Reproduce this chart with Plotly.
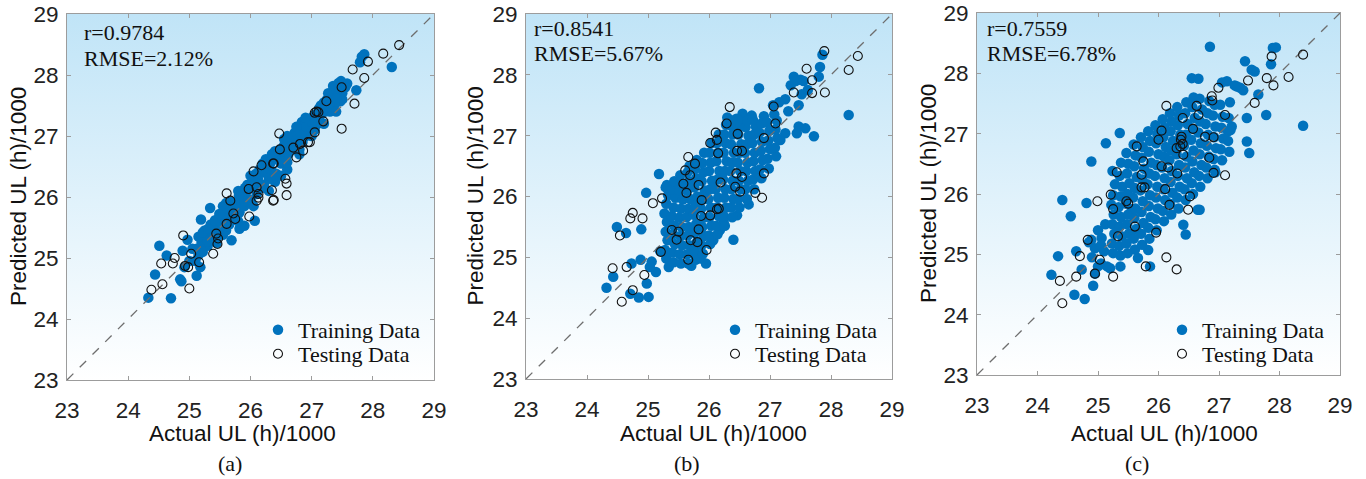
import plotly.graph_objects as go

W, H = 1366, 479

# ---------------- data ----------------
axis_ticks = [23, 24, 25, 26, 27, 28, 29]
diag = [23, 29]
bg_x = [23, 29, 29, 23, 23]
bg_y = [23, 23, 29, 29, 23]

stats_r = ["r=0.9784", "r=0.8541", "r=0.7559"]
stats_rmse = ["RMSE=2.12%", "RMSE=5.67%", "RMSE=6.78%"]
captions = ["(a)", "(b)", "(c)"]

# ---- Panel (a) training ----
train_a_x = [28.31, 27.82, 27.86, 27.79, 27.73, 27.44, 27.58, 27.47, 27.35, 27.27,
             26.84, 26.47, 25.34, 25.19, 24.51, 24.44, 24.33, 24.70, 24.85, 24.87,
             24.63, 24.97, 24.89, 25.12, 25.18, 26.07, 25.69, 25.82, 25.90, 24.92,
             25.10, 25.12, 25.15, 25.20, 25.22, 25.25, 25.30, 25.32, 25.35, 25.40,
             25.42, 25.45, 25.50, 25.52, 25.55, 25.60, 25.62, 25.65, 25.70, 25.72,
             25.75, 25.80, 25.82, 25.85, 25.90, 25.92, 25.95, 26.00, 26.02, 26.05,
             26.10, 26.12, 26.15, 26.20, 26.22, 26.25, 26.30, 26.32, 26.35, 26.40,
             26.42, 26.45, 26.50, 26.52, 26.55, 26.60, 26.62, 26.65, 26.70, 26.72,
             26.75, 26.80, 26.82, 26.85, 26.90, 26.92, 26.95, 27.00, 27.02, 27.05,
             27.10, 27.12, 27.15, 27.20, 27.22, 27.25, 27.30, 27.32, 27.35, 27.40,
             27.42, 27.45, 27.50, 25.25, 25.45, 25.60, 25.80, 25.95, 26.05, 26.15,
             26.30, 26.40, 26.55, 26.60, 26.70, 26.80, 26.85, 26.95, 27.05, 27.15,
             27.30, 27.40, 27.48, 25.05, 25.00, 25.15, 25.35, 25.55, 25.65, 26.25,
             26.35, 26.50, 27.55,
             25.20, 25.30, 25.40, 25.50, 25.60, 25.70, 25.80, 25.90, 26.00, 26.10,
             26.20, 26.30, 26.40, 26.50, 26.60, 26.70, 26.80, 26.90, 27.00, 27.10,
             27.20, 27.30, 27.40, 27.50,
             25.22, 25.31, 25.42, 25.49, 25.61, 25.69, 25.81, 25.91, 26.01, 26.09,
             26.21, 26.31, 26.39, 26.51, 26.61, 26.69, 26.81, 26.91, 27.01, 27.09,
             27.21, 27.29, 27.41, 27.52,
             26.00, 26.20, 26.40, 26.60, 26.75, 26.90, 25.80, 25.60, 26.55, 26.35]
train_a_y = [28.13, 28.30, 28.34, 28.21, 27.75, 27.87, 27.86, 27.57, 27.82, 27.70,
             27.23, 26.76, 25.82, 25.63, 25.20, 24.73, 24.35, 24.34, 24.65, 24.62,
             25.04, 25.30, 25.12, 24.71, 24.85, 25.61, 25.29, 25.48, 25.53, 24.85,
             24.95, 25.15, 25.05, 25.25, 25.10, 25.30, 25.20, 25.40, 25.28, 25.50,
             25.35, 25.60, 25.45, 25.62, 25.38, 25.70, 25.55, 25.78, 25.62, 25.85,
             25.70, 25.90, 25.75, 26.00, 25.85, 26.05, 25.95, 26.15, 25.90, 26.25,
             26.05, 26.30, 26.15, 26.40, 26.20, 26.50, 26.30, 26.55, 26.42, 26.62,
             26.38, 26.70, 26.55, 26.80, 26.62, 26.90, 26.70, 26.95, 26.80, 27.05,
             26.88, 27.10, 26.95, 27.15, 27.00, 27.20, 27.08, 27.30, 27.15, 27.35,
             27.25, 27.45, 27.35, 27.55, 27.40, 27.60, 27.50, 27.70, 27.62, 27.80,
             27.65, 27.75, 27.70, 25.45, 25.25, 25.45, 25.60, 26.20, 25.85, 26.45,
             26.10, 26.25, 26.85, 26.45, 27.00, 26.70, 26.90, 27.25, 27.10, 27.50,
             27.40, 27.55, 27.90, 25.15, 24.95, 25.35, 25.55, 25.85, 25.55, 26.62,
             26.70, 26.35, 27.80,
             25.12, 25.28, 25.32, 25.50, 25.52, 25.72, 25.73, 25.93, 25.95, 26.14,
             26.15, 26.35, 26.36, 26.58, 26.57, 26.80, 26.78, 27.00, 27.00, 27.20,
             27.20, 27.42, 27.40, 27.60,
             25.42, 25.48, 25.62, 25.72, 25.82, 25.92, 26.02, 26.15, 26.22, 26.38,
             26.45, 26.55, 26.65, 26.75, 26.85, 26.98, 27.05, 27.15, 27.22, 27.35,
             27.45, 27.55, 27.62, 27.78,
             26.35, 26.55, 26.75, 27.00, 27.15, 27.30, 26.10, 25.90, 26.95, 26.62]

# ---- Panel (a) testing ----
test_a_x = [28.43, 28.17, 27.92, 27.67, 27.86, 27.49, 27.70, 27.49, 27.24, 27.19,
            27.05, 27.11, 27.05, 26.94, 26.86, 26.75, 26.70, 26.47, 26.38, 26.38,
            26.59, 26.57, 26.59, 26.35, 26.05, 26.10, 26.13, 26.10, 25.97, 25.98,
            25.75, 25.61, 25.67, 25.61, 25.72, 25.44, 25.47, 25.39, 25.16, 25.03,
            24.90, 24.98, 24.93, 24.73, 24.54, 24.76, 25.00, 24.56, 24.38, 26.81,
            26.97, 26.48, 26.18, 26.37, 26.13, 26.37, 25.46, 27.08]
test_a_y = [28.49, 28.35, 28.22, 28.09, 27.95, 27.80, 27.53, 27.12, 27.57, 27.24,
            27.38, 27.39, 27.06, 26.90, 26.76, 26.65, 26.81, 27.04, 26.55, 25.95,
            26.03, 26.30, 26.22, 26.11, 26.42, 26.16, 25.99, 25.94, 26.13, 25.68,
            25.64, 26.06, 25.94, 25.56, 25.73, 25.40, 25.32, 25.07, 24.93, 25.07,
            25.37, 24.85, 24.87, 24.91, 24.91, 25.00, 24.50, 24.57, 24.48, 26.87,
            26.90, 26.78, 26.52, 26.55, 26.05, 25.94, 25.23, 27.40]

# ---- Panel (b) training ----
train_b_x = [27.86, 27.82, 27.80, 28.29, 27.72, 26.82, 27.52, 27.39, 27.50, 27.34,
             27.47, 27.47, 27.58, 27.44, 27.25, 27.17, 26.65, 26.46, 26.40, 25.18,
             24.97, 24.49, 24.64, 24.89, 24.88, 24.73, 24.43, 24.32, 24.71, 24.85,
             25.01, 24.98, 25.13, 25.06, 25.03, 25.34, 25.71, 25.86, 26.07, 26.18,
             26.24, 25.41, 25.31, 27.42, 27.55, 27.25, 27.15, 27.05, 27.62, 27.30,
             26.55, 26.30, 26.70, 26.45, 26.90, 25.20, 25.95,
             # dense core
             25.30, 25.28, 25.32, 25.29, 25.31, 25.27, 25.30, 25.33, 25.29,
             25.42, 25.40, 25.44, 25.41, 25.43, 25.39, 25.42, 25.45, 25.40, 25.43,
             25.54, 25.52, 25.56, 25.53, 25.55, 25.51, 25.54, 25.57, 25.52, 25.55, 25.53,
             25.66, 25.64, 25.68, 25.65, 25.67, 25.63, 25.66, 25.69, 25.64, 25.67, 25.65, 25.68,
             25.78, 25.76, 25.80, 25.77, 25.79, 25.75, 25.78, 25.81, 25.76, 25.79, 25.77, 25.80,
             25.90, 25.88, 25.92, 25.89, 25.91, 25.87, 25.90, 25.93, 25.88, 25.91, 25.89, 25.92,
             26.02, 26.00, 26.04, 26.01, 26.03, 25.99, 26.02, 26.05, 26.00, 26.03, 26.01, 26.04,
             26.14, 26.12, 26.16, 26.13, 26.15, 26.11, 26.14, 26.17, 26.12, 26.15, 26.13, 26.16,
             26.26, 26.24, 26.28, 26.25, 26.27, 26.23, 26.26, 26.29, 26.24, 26.27, 26.25, 26.28,
             26.38, 26.36, 26.40, 26.37, 26.39, 26.35, 26.38, 26.41, 26.36, 26.39, 26.37, 26.40,
             26.50, 26.48, 26.52, 26.49, 26.51, 26.47, 26.50, 26.53, 26.48, 26.51, 26.49,
             26.62, 26.60, 26.64, 26.61, 26.63, 26.59, 26.62, 26.65, 26.60, 26.63,
             26.74, 26.72, 26.76, 26.73, 26.75, 26.71, 26.74, 26.77, 26.72,
             26.86, 26.84, 26.88, 26.85, 26.87, 26.83, 26.86,
             26.98, 26.96, 27.00, 26.97, 26.99, 26.95,
             27.10, 27.08, 27.12, 27.09, 27.11, 27.07]
train_b_y = [28.33, 28.13, 27.97, 27.34, 26.99, 27.78, 27.68, 27.97, 27.92, 27.83,
             27.50, 27.15, 27.12, 27.04, 27.04, 26.93, 25.87, 25.69, 25.29, 26.37,
             26.06, 25.50, 25.40, 25.46, 24.96, 24.90, 24.68, 24.50, 24.40, 24.34,
             24.35, 24.57, 24.76, 24.93, 24.84, 24.84, 24.86, 24.98, 25.28, 25.45,
             25.58, 26.16, 26.19, 27.90, 27.90, 27.60, 27.55, 27.50, 27.75, 27.40,
             27.36, 27.30, 27.33, 27.28, 27.32, 25.10, 24.90,
             # dense core
             24.98, 25.12, 25.28, 25.42, 25.58, 25.72, 25.88, 26.02, 26.15,
             24.92, 25.08, 25.22, 25.38, 25.52, 25.68, 25.82, 25.98, 26.12, 26.25,
             24.90, 25.05, 25.20, 25.35, 25.50, 25.65, 25.80, 25.95, 26.10, 26.22, 26.35,
             24.90, 25.05, 25.20, 25.36, 25.50, 25.66, 25.80, 25.96, 26.10, 26.25, 26.40, 26.50,
             24.96, 25.10, 25.25, 25.40, 25.55, 25.70, 25.85, 26.00, 26.15, 26.30, 26.45, 26.60,
             25.06, 25.20, 25.35, 25.50, 25.65, 25.80, 25.95, 26.10, 26.25, 26.40, 26.55, 26.72,
             25.22, 25.36, 25.52, 25.66, 25.82, 25.96, 26.12, 26.26, 26.42, 26.56, 26.72, 26.88,
             25.38, 25.52, 25.68, 25.82, 25.98, 26.12, 26.28, 26.42, 26.58, 26.72, 26.88, 27.02,
             25.52, 25.68, 25.82, 25.98, 26.12, 26.28, 26.42, 26.58, 26.72, 26.88, 27.02, 27.18,
             25.66, 25.82, 25.96, 26.12, 26.26, 26.42, 26.56, 26.72, 26.86, 27.02, 27.16, 27.25,
             25.82, 25.96, 26.12, 26.26, 26.42, 26.56, 26.72, 26.86, 27.02, 27.15, 27.25,
             25.96, 26.12, 26.26, 26.42, 26.56, 26.72, 26.86, 27.00, 27.14, 27.25,
             26.12, 26.28, 26.42, 26.58, 26.72, 26.88, 27.02, 27.15, 27.26,
             26.30, 26.45, 26.60, 26.75, 26.90, 27.05, 27.20,
             26.46, 26.62, 26.78, 26.92, 27.08, 27.22,
             26.66, 26.80, 26.96, 27.10, 27.25, 27.35]

# ---- Panel (b) testing ----
test_b_x = [27.89, 28.44, 28.29, 27.60, 27.69, 27.90, 27.69, 27.39, 26.34, 26.29,
            26.11, 26.13, 26.02, 26.47, 26.90, 27.09, 27.06, 26.15, 26.46, 26.54,
            25.66, 25.77, 25.61, 25.69, 25.58, 25.63, 25.83, 25.88, 26.19, 26.45,
            26.54, 26.43, 26.51, 26.76, 26.87, 26.90, 25.23, 25.08, 24.75, 24.71,
            24.91, 24.54, 25.39, 25.50, 25.47, 25.70, 25.81, 25.83, 25.87, 26.02,
            26.13, 26.16, 25.96, 25.66, 25.21, 24.42, 24.65, 24.94, 24.75, 24.57]
test_b_y = [28.39, 28.31, 28.08, 28.10, 27.91, 27.71, 27.70, 27.71, 27.47, 27.20,
            27.05, 26.93, 26.88, 27.03, 26.96, 27.20, 27.48, 26.71, 26.75, 26.75,
            26.65, 26.54, 26.43, 26.35, 26.21, 26.06, 26.19, 25.94, 26.23, 26.38,
            26.32, 26.16, 26.08, 26.06, 25.98, 26.38, 25.97, 25.89, 25.73, 25.64,
            25.64, 25.36, 25.45, 25.42, 25.29, 25.28, 25.25, 25.46, 25.68, 25.69,
            25.79, 25.80, 25.12, 24.96, 25.09, 24.82, 24.84, 24.71, 24.46, 24.27]

# ---- Panel (c) training ----
train_c_x = [26.85, 27.89, 27.94, 27.86, 27.43, 27.54, 27.59, 28.39, 27.78, 27.46,
             27.46, 27.50, 26.55, 26.66, 27.13, 27.26, 27.35, 25.36, 25.13, 24.89,
             24.41, 24.55, 24.81, 24.34, 24.23, 24.61, 24.78, 24.92, 24.64, 24.73,
             24.89, 25.06, 25.20, 25.37, 25.66, 25.83, 25.86, 26.41, 26.45, 25.56,
             25.60, 26.65, 26.68, 26.94, 27.15, 27.21, 27.65, 27.30, 27.40, 27.05,
             24.95, 25.05, 24.90, 25.00, 25.10, 24.95, 25.05, 25.15, 24.85, 25.00,
             25.12,
             # dense core
             25.25, 25.23, 25.27, 25.24, 25.26, 25.22, 25.25, 25.28, 25.24,
             25.37, 25.35, 25.39, 25.36, 25.38, 25.34, 25.37, 25.40, 25.36, 25.38,
             25.49, 25.47, 25.51, 25.48, 25.50, 25.46, 25.49, 25.52, 25.48, 25.50, 25.47,
             25.61, 25.59, 25.63, 25.60, 25.62, 25.58, 25.61, 25.64, 25.60, 25.62, 25.59,
             25.73, 25.71, 25.75, 25.72, 25.74, 25.70, 25.73, 25.76, 25.72, 25.74, 25.71,
             25.85, 25.83, 25.87, 25.84, 25.86, 25.82, 25.85, 25.88, 25.84, 25.86, 25.83,
             25.97, 25.95, 25.99, 25.96, 25.98, 25.94, 25.97, 26.00, 25.96, 25.98, 25.95,
             26.09, 26.07, 26.11, 26.08, 26.10, 26.06, 26.09, 26.12, 26.08, 26.10, 26.07,
             26.21, 26.19, 26.23, 26.20, 26.22, 26.18, 26.21, 26.24, 26.20, 26.22, 26.19,
             26.33, 26.31, 26.35, 26.32, 26.34, 26.30, 26.33, 26.36, 26.32, 26.34, 26.31,
             26.45, 26.43, 26.47, 26.44, 26.46, 26.42, 26.45, 26.48, 26.44, 26.46,
             26.57, 26.55, 26.59, 26.56, 26.58, 26.54, 26.57, 26.60, 26.56, 26.58,
             26.69, 26.67, 26.71, 26.68, 26.70, 26.66, 26.69, 26.72, 26.68,
             26.81, 26.79, 26.83, 26.80, 26.82, 26.78, 26.81, 26.84,
             26.93, 26.91, 26.95, 26.92, 26.94, 26.90, 26.93,
             27.05, 27.03, 27.07, 27.04, 27.06, 27.02,
             27.17, 27.15, 27.19, 27.16, 27.18]
train_c_y = [28.44, 28.42, 28.43, 28.15, 28.20, 28.06, 28.03, 27.13, 27.31, 27.26,
             26.87, 26.68, 27.92, 27.91, 27.87, 27.80, 27.76, 27.01, 26.84, 26.54,
             25.90, 25.63, 25.85, 24.97, 24.66, 24.33, 24.26, 24.48, 25.05, 24.75,
             25.24, 25.27, 24.77, 24.80, 24.94, 25.07, 24.80, 25.49, 25.33, 25.75,
             25.75, 25.74, 25.74, 26.36, 27.04, 27.12, 27.65, 27.78, 27.72, 27.85,
             25.10, 25.15, 24.95, 24.80, 25.05, 24.68, 24.85, 24.80, 25.20, 25.40,
             25.50,
             # dense core
             25.02, 25.18, 25.34, 25.50, 25.66, 25.82, 25.98, 26.16, 26.38,
             24.98, 25.14, 25.30, 25.46, 25.62, 25.78, 25.96, 26.12, 26.30, 26.52,
             25.02, 25.18, 25.34, 25.50, 25.66, 25.84, 26.00, 26.18, 26.34, 26.50, 26.68,
             25.08, 25.26, 25.42, 25.60, 25.76, 25.94, 26.10, 26.28, 26.46, 26.64, 26.82,
             25.16, 25.34, 25.52, 25.70, 25.88, 26.06, 26.24, 26.42, 26.60, 26.78, 26.94,
             25.26, 25.44, 25.62, 25.80, 25.98, 26.16, 26.34, 26.52, 26.70, 26.88, 27.04,
             25.40, 25.58, 25.76, 25.94, 26.12, 26.30, 26.48, 26.66, 26.84, 27.00, 27.14,
             25.55, 25.72, 25.90, 26.08, 26.26, 26.44, 26.62, 26.78, 26.94, 27.10, 27.24,
             25.66, 25.84, 26.02, 26.20, 26.38, 26.56, 26.72, 26.88, 27.04, 27.20, 27.34,
             25.76, 25.94, 26.12, 26.30, 26.48, 26.66, 26.82, 26.98, 27.14, 27.30, 27.44,
             25.90, 26.08, 26.26, 26.44, 26.62, 26.80, 26.98, 27.16, 27.34, 27.52,
             26.00, 26.18, 26.36, 26.54, 26.72, 26.90, 27.08, 27.26, 27.44, 27.60,
             26.12, 26.30, 26.48, 26.66, 26.84, 27.02, 27.20, 27.40, 27.58,
             26.26, 26.44, 26.62, 26.80, 26.98, 27.16, 27.34, 27.54,
             26.40, 26.58, 26.76, 26.94, 27.12, 27.30, 27.48,
             26.56, 26.74, 26.92, 27.10, 27.28, 27.48,
             26.70, 26.88, 27.06, 27.26, 27.52]

# ---- Panel (c) testing ----
test_c_x = [28.39, 27.87, 28.15, 27.79, 27.90, 27.48, 27.59, 26.99, 26.88, 26.89,
            27.10, 27.10, 26.91, 26.84, 26.91, 26.77, 26.63, 26.66, 26.57, 26.13,
            26.40, 26.30, 26.36, 26.38, 26.37, 26.40, 26.41, 26.05, 26.00, 25.64,
            25.75, 25.72, 25.72, 25.77, 26.05, 26.16, 26.31, 26.11, 26.52, 26.49,
            26.18, 25.96, 25.61, 25.47, 25.50, 25.31, 25.21, 25.25, 25.33, 24.99,
            24.83, 24.70, 25.03, 24.95, 24.64, 25.25, 25.79, 26.13, 26.30, 24.37,
            24.41]
test_c_y = [28.31, 28.28, 27.94, 27.92, 27.80, 27.88, 27.51, 27.76, 27.62, 27.55,
            27.31, 26.31, 26.35, 26.60, 26.94, 26.95, 27.46, 27.31, 27.08, 27.46,
            27.26, 26.76, 26.79, 26.95, 26.90, 26.83, 26.65, 27.05, 26.90, 26.79,
            26.54, 26.32, 26.11, 26.11, 26.46, 26.44, 26.34, 26.08, 25.96, 25.74,
            25.82, 25.36, 25.46, 25.88, 25.84, 26.36, 25.99, 25.75, 25.30, 25.88,
            25.24, 24.97, 24.91, 24.68, 24.63, 24.63, 24.80, 24.95, 24.75, 24.56,
            24.19]

train_sets = [(train_a_x, train_a_y), (train_b_x, train_b_y), (train_c_x, train_c_y)]
test_sets = [(test_a_x, test_a_y), (test_b_x, test_b_y), (test_c_x, test_c_y)]

# ---------------- layout geometry (pixels) ----------------
panels = [
    dict(l=67, r=434, t=14, b=380, ytitle_x=18, xtitle_x=242, cap_x=230, txt_x=82,
         r_y=32, rmse_y=58, leg_x=258),
    dict(l=526, r=892, t=14, b=379, ytitle_x=475, xtitle_x=713, cap_x=687, txt_x=532,
         r_y=29, rmse_y=54, leg_x=715),
    dict(l=977, r=1340, t=13, b=375, ytitle_x=928, xtitle_x=1164, cap_x=1137, txt_x=985,
         r_y=29, rmse_y=54, leg_x=1162),
]

def px(x):
    return x / W

def py(y):
    return 1 - y / H

BLUE = "#0072BD"
FRAME = "#9c9c9c"
SANS = "Liberation Sans, Arial, sans-serif"
SERIF = "Liberation Serif, Times New Roman, serif"
FS = 22.5

fig = go.Figure()
annotations = []
layout_axes = {}
leg_names = ["legend", "legend2", "legend3", "legend4", "legend5", "legend6"]

for i, p in enumerate(panels):
    k = "" if i == 0 else str(i + 1)
    xa, ya = "x" + k, "y" + k
    leg_train = leg_names[2 * i]
    leg_test = leg_names[2 * i + 1]

    fig.add_trace(go.Scatter(
        x=bg_x, y=bg_y, xaxis=xa, yaxis=ya, mode="none", fill="toself",
        fillgradient=dict(type="vertical",
                          colorscale=[[0, "#ffffff"], [1, "#c0e4f7"]]),
        hoverinfo="skip", showlegend=False))
    tx, ty = train_sets[i]
    fig.add_trace(go.Scatter(
        x=tx, y=ty, xaxis=xa, yaxis=ya, mode="markers", name="Training Data",
        marker=dict(color=BLUE, size=10.5, line=dict(width=0)), legend=leg_train))
    fig.add_trace(go.Scatter(
        x=diag, y=diag, xaxis=xa, yaxis=ya, mode="lines",
        line=dict(color="#6e6e6e", width=1.3, dash="dash"),
        hoverinfo="skip", showlegend=False))
    sx, sy = test_sets[i]
    fig.add_trace(go.Scatter(
        x=sx, y=sy, xaxis=xa, yaxis=ya, mode="markers", name="Testing Data",
        marker=dict(symbol="circle-open", color="#111111", size=9,
                    line=dict(width=1.1, color="#111111")), legend=leg_test))

    common = dict(range=[23, 29], tickvals=axis_ticks, ticks="inside", ticklen=4,
                  tickcolor=FRAME, showline=True, linecolor=FRAME, linewidth=1,
                  mirror="ticks", showgrid=False, zeroline=False, automargin=False,
                  tickfont=dict(family=SANS, size=FS, color="#222222"))
    layout_axes["xaxis" + k] = dict(common, domain=[px(p["l"]), px(p["r"])],
                                    anchor=ya, ticklabelstandoff=10)
    layout_axes["yaxis" + k] = dict(common, domain=[py(p["b"]), py(p["t"])],
                                    anchor=xa, ticklabelstandoff=3)

    for leg, rowy in ((leg_train, 330), (leg_test, 354)):
        layout_axes[leg] = dict(x=px(p["leg_x"]), y=py(rowy), xanchor="left",
                                yanchor="middle", bgcolor="rgba(0,0,0,0)", borderwidth=0,
                                font=dict(family=SERIF, size=22, color="#111111"),
                                itemwidth=30)

    cy = (p["t"] + p["b"]) / 2
    annotations += [
        dict(text="Actual UL (h)/1000", x=px(p["xtitle_x"]), y=py(433),
             font=dict(family=SANS, size=FS, color="#111111")),
        dict(text="Predicted UL (h)/1000", x=px(p["ytitle_x"]), y=py(cy), textangle=-90,
             font=dict(family=SANS, size=FS, color="#111111")),
        dict(text=captions[i], x=px(p["cap_x"]), y=py(463),
             font=dict(family=SERIF, size=22, color="#111111")),
        dict(text=stats_r[i], x=px(p["txt_x"]), y=py(p["r_y"]), xanchor="left",
             font=dict(family=SERIF, size=22, color="#111111")),
        dict(text=stats_rmse[i], x=px(p["txt_x"]), y=py(p["rmse_y"]), xanchor="left",
             font=dict(family=SERIF, size=22, color="#111111")),
    ]

for a in annotations:
    a.update(xref="paper", yref="paper", showarrow=False,
             xanchor=a.get("xanchor", "center"), yanchor="middle")

fig.update_layout(
    width=W, height=H, margin=dict(l=0, r=0, t=0, b=0, pad=0),
    paper_bgcolor="white", plot_bgcolor="white", annotations=annotations,
    **layout_axes)

fig.write_html("out.html")
